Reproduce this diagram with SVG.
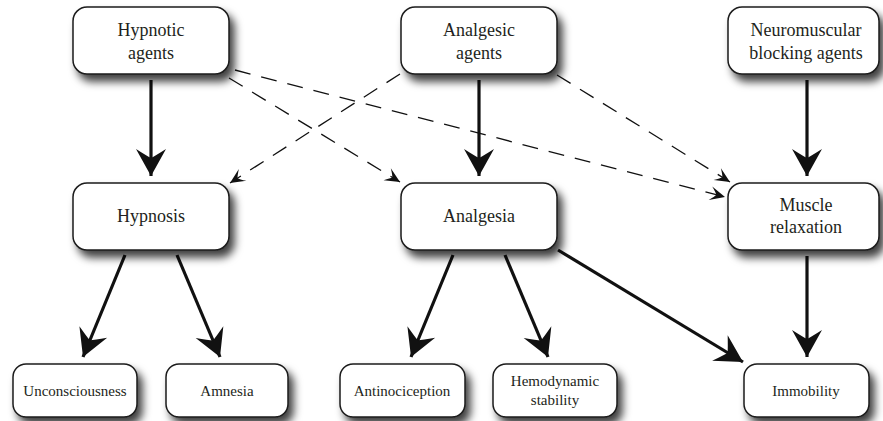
<svg xmlns="http://www.w3.org/2000/svg" width="883" height="421" viewBox="0 0 883 421">
<defs>
<filter id="sh" x="-20%" y="-20%" width="150%" height="170%">
<feDropShadow dx="5" dy="7" stdDeviation="4" flood-color="#000" flood-opacity="0.75"/>
</filter>
<marker id="big" markerUnits="userSpaceOnUse" viewBox="-30 -17 32 34" refX="0" refY="0" markerWidth="32" markerHeight="34" orient="auto" overflow="visible">
<path d="M0,0 L-27,-15 Q-20,-4 -18,0 Q-20,4 -27,15 Z" fill="#111"/>
</marker>
<marker id="small" markerUnits="userSpaceOnUse" viewBox="-16 -8 18 16" refX="0" refY="0" markerWidth="18" markerHeight="16" orient="auto" overflow="visible">
<path d="M0,0 L-15,-7 Q-10,-2 -9,0 Q-10,2 -15,7 Z" fill="#111"/>
</marker>
</defs>
<style>
.box{fill:#fff;stroke:#1a1a1a;stroke-width:1.5;filter:url(#sh)}
.solid{stroke:#111;stroke-width:3.2;fill:none;marker-end:url(#big)}
.dash{stroke:#111;stroke-width:1.3;fill:none;stroke-dasharray:16 11;marker-end:url(#small)}
</style>
<rect width="883" height="421" fill="#fff"/>
<g id="connectors">
<line class="solid" x1="151" y1="80" x2="151" y2="176"/>
<line class="solid" x1="479" y1="80" x2="479" y2="176"/>
<line class="solid" x1="807" y1="80" x2="807" y2="176"/>
<line class="solid" x1="807" y1="256" x2="807" y2="357"/>
<line class="solid" x1="125" y1="255" x2="83" y2="357"/>
<line class="solid" x1="177" y1="255" x2="220" y2="357"/>
<line class="solid" x1="453" y1="255" x2="411" y2="357"/>
<line class="solid" x1="505" y1="255" x2="548" y2="357"/>
<line class="solid" x1="558" y1="250" x2="743" y2="362"/>
<line class="dash" x1="229" y1="78" x2="400" y2="182"/>
<line class="dash" x1="235" y1="70" x2="725" y2="197"/>
<line class="dash" x1="400" y1="74" x2="230" y2="183"/>
<line class="dash" x1="557" y1="75" x2="730" y2="182"/>
</g>
<g font-family="'Liberation Serif', 'Times New Roman', 'DejaVu Serif', serif" fill="#231f20" text-anchor="middle" font-size="18">
<g id="hypnotic-agents">
<rect class="box" x="73" y="7" width="156" height="67" rx="14"/>
<text x="151" y="36">Hypnotic</text>
<text x="151" y="59">agents</text>
</g>
<g id="analgesic-agents">
<rect class="box" x="401" y="7" width="156" height="67" rx="14"/>
<text x="479" y="36">Analgesic</text>
<text x="479" y="59">agents</text>
</g>
<g id="nmb-agents">
<rect class="box" x="728" y="7" width="151" height="67" rx="14"/>
<text x="806" y="36">Neuromuscular</text>
<text x="806" y="59">blocking agents</text>
</g>
<g id="hypnosis">
<rect class="box" x="73" y="183" width="156" height="67" rx="14"/>
<text x="151" y="222">Hypnosis</text>
</g>
<g id="analgesia">
<rect class="box" x="401" y="183" width="156" height="67" rx="14"/>
<text x="479" y="222">Analgesia</text>
</g>
<g id="muscle-relaxation">
<rect class="box" x="728" y="183" width="151" height="67" rx="14"/>
<text x="806" y="211">Muscle</text>
<text x="806" y="233">relaxation</text>
</g>
<g id="unconsciousness">
<rect class="box" x="13" y="364" width="124" height="53" rx="13"/>
<text x="75" y="396" font-size="15">Unconsciousness</text>
</g>
<g id="amnesia">
<rect class="box" x="166" y="364" width="122" height="53" rx="13"/>
<text x="227" y="396" font-size="15">Amnesia</text>
</g>
<g id="antinociception">
<rect class="box" x="340" y="364" width="125" height="53" rx="13"/>
<text x="402" y="396" font-size="15">Antinociception</text>
</g>
<g id="hemodynamic-stability">
<rect class="box" x="493" y="364" width="124" height="53" rx="13"/>
<text x="555" y="386" font-size="15">Hemodynamic</text>
<text x="555" y="405" font-size="15">stability</text>
</g>
<g id="immobility">
<rect class="box" x="744" y="364" width="125" height="53" rx="13"/>
<text x="806" y="396" font-size="15">Immobility</text>
</g>
</g>
</svg>
